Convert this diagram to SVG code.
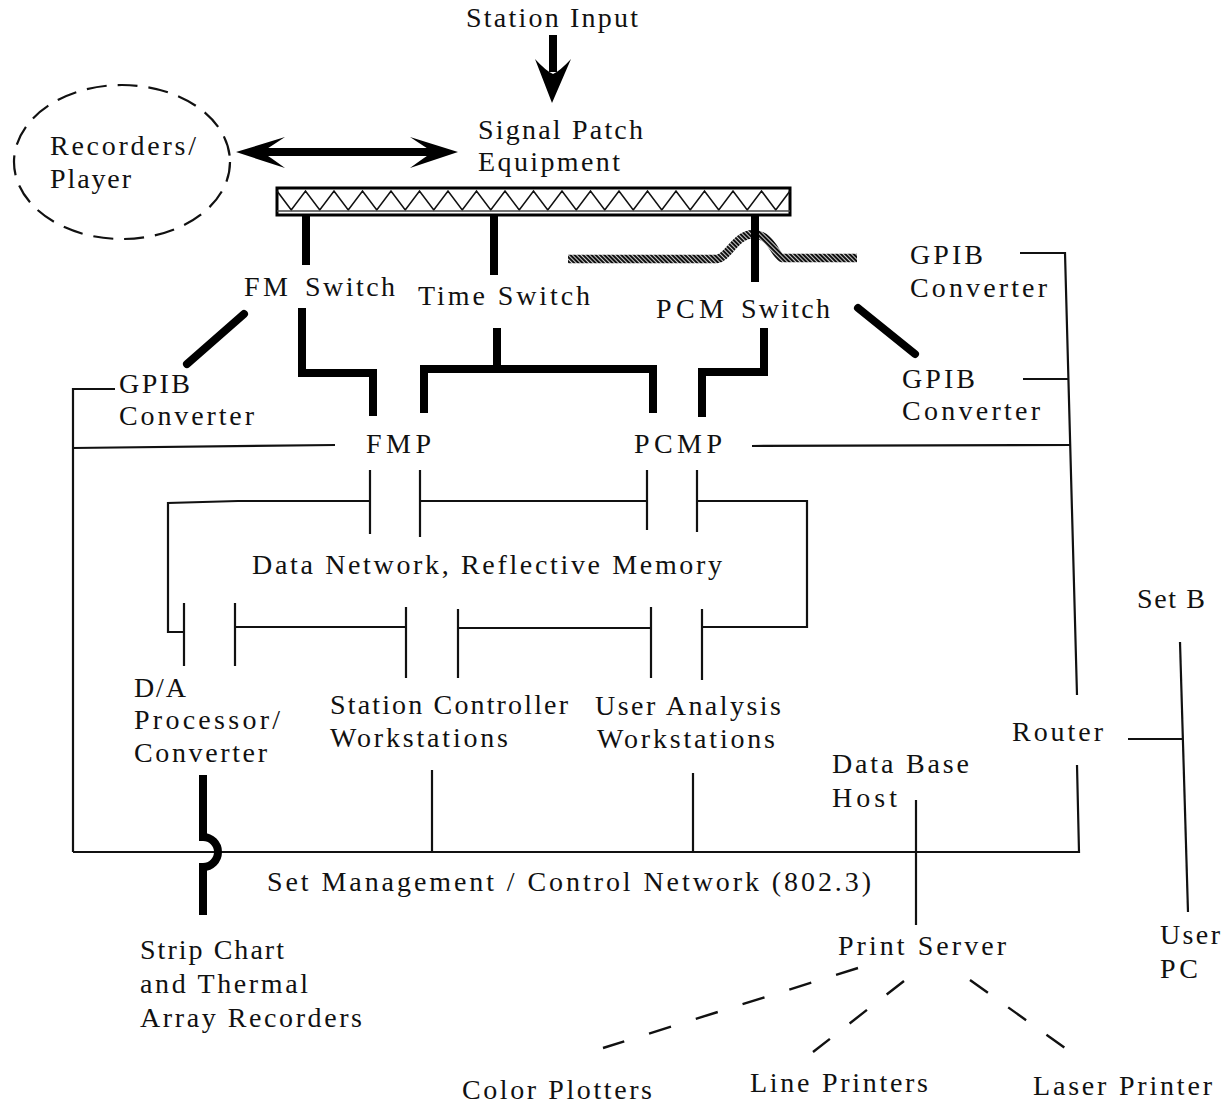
<svg xmlns="http://www.w3.org/2000/svg" width="1225" height="1112" viewBox="0 0 1225 1112">
  <style>
    .t { font-family: "Liberation Serif", "Times New Roman", serif; font-size: 28px; fill: #111; }
    .thin { stroke: #111; stroke-width: 2.2; fill: none; stroke-linejoin: miter; }
    .thick { stroke: #000; stroke-width: 8; fill: none; stroke-linejoin: miter; }
    .diag { stroke: #000; stroke-width: 8; fill: none; stroke-linecap: round; }
    .dash { stroke: #111; stroke-width: 2.4; fill: none; }
    .head { fill: #000; stroke: none; }
  </style>
  <defs>
    <!-- diagonal hatch used for the crossing line near the PCM switch -->
    <pattern id="hatch" patternUnits="userSpaceOnUse" width="3" height="3" patternTransform="rotate(-45)">
      <rect x="0" y="0" width="2.2" height="3" fill="#111"/>
    </pattern>
  </defs>
  <rect width="1225" height="1112" fill="#fff"/>

  <!-- connectors -->
  <g id="connectors">
    <!-- station input arrow -->
    <path class="thick" d="M553,35 V72" stroke-width="9"/>
    <path class="head" d="M552,103 L535,59 Q546,71 553,74 Q560,71 571,59 Z"/>
    <!-- recorders <-> patch equipment -->
    <path class="thick" d="M262,152 H434" stroke-width="7"/>
    <path class="head" d="M236,152 L285,137 Q270,147 262,152 Q270,157 285,168 Z"/>
    <path class="head" d="M458,152 L410,137 Q425,147 433,152 Q425,157 410,168 Z"/>

    <!-- patch legs -->
    <path class="thick" d="M306,214 V265"/>
    <path class="thick" d="M494,214 V275"/>
    <!-- hatched line jumping over the PCM leg -->
    <path d="M568,259 H717 C728,258 735,235 753,234 C771,234 776,257 782,258 H857" fill="none" stroke="url(#hatch)" stroke-width="8.5"/>
    <path class="thick" d="M755,214 V282"/>

    <!-- switches to processors -->
    <path class="diag" d="M244,314 L187,364"/>
    <path class="thick" d="M302,308 V373 H373 V416"/>
    <path class="thick" d="M497,328 V369"/>
    <path class="thick" d="M424,413 V369 H653 V413"/>
    <path class="thick" d="M764,328 V372 H702 V417"/>
    <path class="diag" d="M858,308 L915,354"/>

    <!-- GPIB / control lines -->
    <path class="thin" d="M115,389 H73 V852"/>
    <path class="thin" d="M73,448 L335,445"/>
    <path class="thin" d="M752,446 L1071,445"/>
    <path class="thin" d="M1020,253 H1065 L1077,695"/>
    <path class="thin" d="M1023,379 H1068"/>

    <!-- data network, reflective memory -->
    <path class="thin" d="M370,470 V534 M420,470 V537 M647,470 V530 M697,470 V532"/>
    <path class="thin" d="M370,501 H238 L168,503 V632 H184"/>
    <path class="thin" d="M420,501 H647"/>
    <path class="thin" d="M697,501 H807 V627 H702"/>
    <path class="thin" d="M184,603 V666 M235,603 V666"/>
    <path class="thin" d="M235,627 H406"/>
    <path class="thin" d="M406,607 V678 M458,609 V678"/>
    <path class="thin" d="M458,628 H651"/>
    <path class="thin" d="M651,607 V678 M702,609 V680"/>

    <!-- set management / control network -->
    <path class="thin" d="M73,852 H1079 L1077,765"/>
    <path class="thin" d="M432,770 V852"/>
    <path class="thin" d="M693,773 V852"/>
    <path class="thin" d="M916,800 V925"/>
    <path class="thick" d="M203,775 V837 A15,15 0 0 1 203,867 V915"/>

    <!-- router to set B -->
    <path class="thin" d="M1128,739 H1183"/>
    <path class="thin" d="M1180,642 L1188,912"/>

    <!-- print server outputs -->
    <path class="dash" d="M858,968 L603,1048" stroke-dasharray="23 26"/>
    <path class="dash" d="M904,981 L813,1052" stroke-dasharray="22 25"/>
    <path class="dash" d="M970,980 L1065,1048" stroke-dasharray="22 25"/>
  </g>

  <g id="station-input">
    <text class="t" x="466" y="27" textLength="172" lengthAdjust="spacing">Station Input</text>
  </g>

  <g id="signal-patch">
    <text class="t" x="478" y="139" textLength="165" lengthAdjust="spacing">Signal Patch</text>
    <text class="t" x="478" y="171" textLength="142" lengthAdjust="spacing">Equipment</text>
    <rect x="277" y="188" width="513" height="27" fill="#fff" stroke="#000" stroke-width="3"/>
    <polyline fill="none" stroke="#111" stroke-width="1.6" points="277,191 291.25,210 305.5,191 319.75,210 334,191 348.25,210 362.5,191 376.75,210 391,191 405.25,210 419.5,191 433.75,210 448,191 462.25,210 476.5,191 490.75,210 505,191 519.25,210 533.5,191 547.75,210 562,191 576.25,210 590.5,191 604.75,210 619,191 633.25,210 647.5,191 661.75,210 676,191 690.25,210 704.5,191 718.75,210 733,191 747.25,210 761.5,191 775.75,210 790,191"/>
    <line x1="277" y1="211" x2="790" y2="211" stroke="#444" stroke-width="1.6"/>
  </g>

  <g id="recorders">
    <ellipse cx="122" cy="162" rx="108" ry="77" fill="none" stroke="#111" stroke-width="2.2" stroke-dasharray="20 11"/>
    <text class="t" x="50" y="155" textLength="146" lengthAdjust="spacing">Recorders/</text>
    <text class="t" x="50" y="188" textLength="81" lengthAdjust="spacing">Player</text>
  </g>

  <g id="fm-switch">
    <text class="t" x="244" y="296"><tspan textLength="44" lengthAdjust="spacing">FM</tspan> <tspan x="305" textLength="90" lengthAdjust="spacing">Switch</tspan></text>
  </g>
  <g id="time-switch">
    <text class="t" x="418" y="305" textLength="172" lengthAdjust="spacing">Time Switch</text>
  </g>
  <g id="pcm-switch">
    <text class="t" x="656" y="318"><tspan textLength="68" lengthAdjust="spacing">PCM</tspan> <tspan x="741" textLength="89" lengthAdjust="spacing">Switch</tspan></text>
  </g>

  <g id="gpib-upper-right">
    <text class="t" x="910" y="264" textLength="73" lengthAdjust="spacing">GPIB</text>
    <text class="t" x="910" y="297" textLength="137" lengthAdjust="spacing">Converter</text>
  </g>
  <g id="gpib-right">
    <text class="t" x="902" y="388" textLength="73" lengthAdjust="spacing">GPIB</text>
    <text class="t" x="902" y="420" textLength="138" lengthAdjust="spacing">Converter</text>
  </g>
  <g id="gpib-left">
    <text class="t" x="119" y="393" textLength="71" lengthAdjust="spacing">GPIB</text>
    <text class="t" x="119" y="425" textLength="135" lengthAdjust="spacing">Converter</text>
  </g>

  <g id="fmp">
    <text class="t" x="366" y="453" textLength="65" lengthAdjust="spacing">FMP</text>
  </g>
  <g id="pcmp">
    <text class="t" x="634" y="453" textLength="88" lengthAdjust="spacing">PCMP</text>
  </g>

  <g id="data-network">
    <text class="t" x="252" y="574" textLength="470" lengthAdjust="spacing">Data Network, Reflective Memory</text>
  </g>

  <g id="da-processor">
    <text class="t" x="134" y="697" textLength="52" lengthAdjust="spacing">D/A</text>
    <text class="t" x="134" y="729" textLength="146" lengthAdjust="spacing">Processor/</text>
    <text class="t" x="134" y="762" textLength="133" lengthAdjust="spacing">Converter</text>
  </g>
  <g id="station-controller">
    <text class="t" x="330" y="714" textLength="238" lengthAdjust="spacing">Station Controller</text>
    <text class="t" x="330" y="747" textLength="178" lengthAdjust="spacing">Workstations</text>
  </g>
  <g id="user-analysis">
    <text class="t" x="595" y="715" textLength="186" lengthAdjust="spacing">User Analysis</text>
    <text class="t" x="597" y="748" textLength="178" lengthAdjust="spacing">Workstations</text>
  </g>
  <g id="router">
    <text class="t" x="1012" y="741" textLength="91" lengthAdjust="spacing">Router</text>
  </g>
  <g id="database-host">
    <text class="t" x="832" y="773" textLength="137" lengthAdjust="spacing">Data Base</text>
    <text class="t" x="832" y="807" textLength="65" lengthAdjust="spacing">Host</text>
  </g>
  <g id="control-network">
    <text class="t" x="267" y="891" textLength="604" lengthAdjust="spacing">Set Management / Control Network (802.3)</text>
  </g>
  <g id="strip-chart">
    <text class="t" x="140" y="959" textLength="144" lengthAdjust="spacing">Strip Chart</text>
    <text class="t" x="140" y="993" textLength="168" lengthAdjust="spacing">and Thermal</text>
    <text class="t" x="140" y="1027" textLength="222" lengthAdjust="spacing">Array Recorders</text>
  </g>
  <g id="print-server">
    <text class="t" x="838" y="955" textLength="168" lengthAdjust="spacing">Print Server</text>
  </g>
  <g id="color-plotters">
    <text class="t" x="462" y="1099" textLength="190" lengthAdjust="spacing">Color Plotters</text>
  </g>
  <g id="line-printers">
    <text class="t" x="750" y="1092" textLength="178" lengthAdjust="spacing">Line Printers</text>
  </g>
  <g id="laser-printer">
    <text class="t" x="1033" y="1095" textLength="179" lengthAdjust="spacing">Laser Printer</text>
  </g>
  <g id="set-b">
    <text class="t" x="1137" y="608" textLength="68" lengthAdjust="spacing">Set B</text>
  </g>
  <g id="user-pc">
    <text class="t" x="1160" y="944" textLength="60" lengthAdjust="spacing">User</text>
    <text class="t" x="1160" y="978" textLength="38" lengthAdjust="spacing">PC</text>
  </g>
</svg>
